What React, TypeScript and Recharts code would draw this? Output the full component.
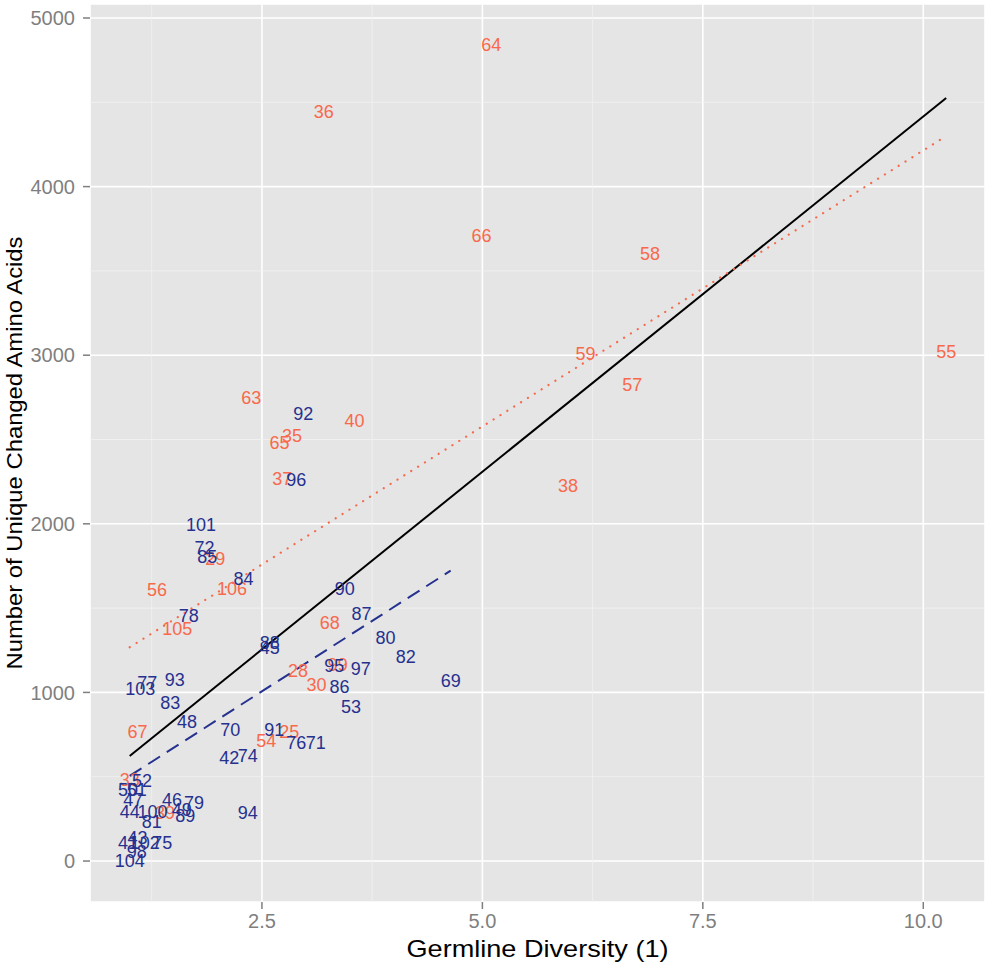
import {
  ComposedChart,
  Scatter,
  Line,
  XAxis,
  YAxis,
  CartesianGrid,
  ReferenceLine,
} from 'recharts';

// labels drawn as text at (germline diversity, unique changed amino acids)
const redLabels = ['64', '36', '66', '58', '59', '55', '57', '38', '63', '40', '35', '65', '37', '29', '56', '106', '105', '68', '28', '99', '30', '25', '54', '67', '33', '39'];
const redX = [5.1, 3.2, 4.99, 6.9, 6.17, 10.26, 6.7, 5.97, 2.38, 3.55, 2.84, 2.7, 2.73, 1.97, 1.31, 2.16, 1.54, 3.27, 2.91, 3.36, 3.12, 2.81, 2.55, 1.09, 1.0, 1.4];
const redY = [4840, 4442, 3707, 3600, 3007, 3019, 2823, 2224, 2746, 2610, 2521, 2479, 2266, 1791, 1607, 1613, 1376, 1412, 1127, 1163, 1044, 765, 712, 765, 480, 285];

const blueLabels = ['92', '96', '101', '72', '85', '84', '90', '78', '87', '88', '45', '80', '82', '69', '95', '97', '86', '53', '93', '103', '77', '83', '48', '70', '91', '76', '71', '42', '74', '94', '52', '50', '51', '47', '46', '79', '44', '100', '49', '89', '81', '41', '43', '102', '75', '98', '104'];
const blueX = [2.97, 2.89, 1.81, 1.85, 1.88, 2.29, 3.44, 1.67, 3.63, 2.59, 2.59, 3.9, 4.13, 4.64, 3.32, 3.62, 3.38, 3.51, 1.51, 1.12, 1.2, 1.46, 1.65, 2.14, 2.64, 2.89, 3.11, 2.13, 2.34, 2.34, 1.14, 0.98, 1.08, 1.04, 1.48, 1.73, 1.0, 1.26, 1.59, 1.63, 1.25, 0.98, 1.09, 1.17, 1.37, 1.08, 1.0];
const blueY = [2651, 2260, 1993, 1856, 1803, 1673, 1613, 1453, 1465, 1293, 1263, 1323, 1210, 1068, 1157, 1139, 1032, 913, 1074, 1020, 1056, 937, 824, 777, 777, 700, 700, 611, 623, 285, 474, 421, 421, 362, 362, 344, 291, 291, 302, 267, 231, 107, 136, 107, 107, 53, 0];

// fitted lines, end points
const allFitX = [1.0, 10.26];
const allFitY = [623, 4525];
const redFitX = [1.0, 10.26];
const redFitY = [1268, 4300];
const blueFitX = [1.0, 4.64];
const blueFitY = [505, 1722];

const xTicks = [2.5, 5, 7.5, 10];
const yTicks = [0, 1000, 2000, 3000, 4000, 5000];
const xMinor = [1.25, 3.75, 6.25, 8.75];
const yMinor = [500, 1500, 2500, 3500, 4500];

const RED = '#F8694B';
const BLUE = '#25318F';
const FONT = '"Liberation Sans", Arial, sans-serif';

const toPoints = (labels: string[], xs: number[], ys: number[]) =>
  labels.map((label, i) => ({ label, x: xs[i], y: ys[i] }));

const toLine = (xs: number[], ys: number[]) => xs.map((x, i) => ({ x, y: ys[i] }));

const redPoints = toPoints(redLabels, redX, redY);
const bluePoints = toPoints(blueLabels, blueX, blueY);

function labelShape(color: string) {
  return (props: any) => (
    <text
      x={props.cx}
      y={props.cy}
      textAnchor="middle"
      dominantBaseline="central"
      fill={color}
      fontSize={18}
      fontFamily={FONT}
    >
      {props.payload.label}
    </text>
  );
}

function XTitle(props: any) {
  const vb = props.viewBox;
  return (
    <text
      x={vb.x + vb.width / 2}
      y={vb.y + 46}
      textAnchor="middle"
      dominantBaseline="central"
      fontSize={24}
      textLength={262}
      lengthAdjust="spacingAndGlyphs"
      fill="#000"
      fontFamily={FONT}
    >
      Germline Diversity (1)
    </text>
  );
}

function YTitle(props: any) {
  const vb = props.viewBox;
  const cy = vb.y + vb.height / 2;
  return (
    <text
      x={14}
      y={cy}
      transform={`rotate(-90, 14, ${cy})`}
      textAnchor="middle"
      dominantBaseline="central"
      fontSize={22}
      textLength={433}
      lengthAdjust="spacingAndGlyphs"
      fill="#000"
      fontFamily={FONT}
    >
      Number of Unique Changed Amino Acids
    </text>
  );
}

export default function App() {
  return (
    <div style={{ position: 'absolute', left: 0, top: 0, background: '#fff' }}>
      <ComposedChart
        width={992}
        height={967}
        margin={{ top: 4, right: 7, bottom: 0, left: 0 }}
        style={{ fontFamily: FONT }}
      >
        <CartesianGrid fill="#E5E5E5" stroke="#FFFFFF" strokeWidth={1.6} />
        {xMinor.map((v) => (
          <ReferenceLine key={'xm' + v} x={v} stroke="#F2F2F2" strokeWidth={0.8} />
        ))}
        {yMinor.map((v) => (
          <ReferenceLine key={'ym' + v} y={v} stroke="#F2F2F2" strokeWidth={0.8} />
        ))}
        <XAxis
          type="number"
          dataKey="x"
          domain={[0.55, 10.7]}
          ticks={xTicks}
          tickFormatter={(v: number) => v.toFixed(1)}
          allowDataOverflow
          axisLine={false}
          tickSize={7}
          tickLine={{ stroke: '#7F7F7F', strokeWidth: 1.5 }}
          tick={{ fill: '#7F7F7F', fontSize: 20 }}
          tickMargin={5}
          height={65}
          label={<XTitle />}
        />
        <YAxis
          type="number"
          dataKey="y"
          domain={[-243, 5083]}
          ticks={yTicks}
          allowDataOverflow
          axisLine={false}
          tickSize={7}
          tickLine={{ stroke: '#7F7F7F', strokeWidth: 1.5 }}
          tick={{ fill: '#7F7F7F', fontSize: 20 }}
          tickMargin={8}
          width={90}
          label={<YTitle />}
        />
        <Scatter data={redPoints} dataKey="y" shape={labelShape(RED)} isAnimationActive={false} />
        <Scatter data={bluePoints} dataKey="y" shape={labelShape(BLUE)} isAnimationActive={false} />
        <Line data={toLine(allFitX, allFitY)} dataKey="y" type="linear" stroke="#000" strokeWidth={2} dot={false} activeDot={false} isAnimationActive={false} />
        <Line data={toLine(redFitX, redFitY)} dataKey="y" type="linear" stroke={RED} strokeWidth={2.2} strokeDasharray="0.1 8" strokeLinecap="round" dot={false} activeDot={false} isAnimationActive={false} />
        <Line data={toLine(blueFitX, blueFitY)} dataKey="y" type="linear" stroke={BLUE} strokeWidth={2} strokeDasharray="14 8" dot={false} activeDot={false} isAnimationActive={false} />
      </ComposedChart>
    </div>
  );
}
